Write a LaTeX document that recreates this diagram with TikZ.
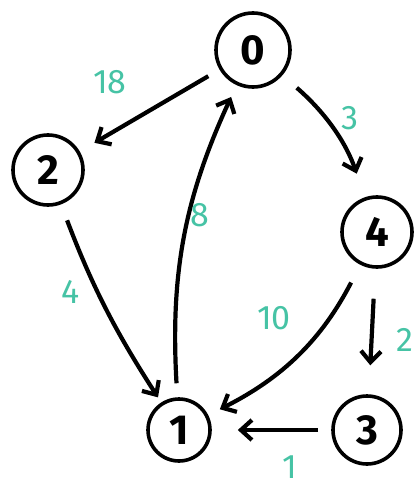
\documentclass[tikz,border=0pt]{standalone}
\usepackage{fontspec}
\setmainfont{Fira Sans}
\usetikzlibrary{arrows.meta}
\definecolor{weight}{RGB}{70,195,165}
\begin{document}
\begin{tikzpicture}[x=1pt,y=-1pt,
  vert/.style={circle, draw, line width=3.6pt, minimum size=#1, inner sep=0pt,
    font=\fontsize{42}{42}\selectfont\bfseries},
  edge/.style={line width=4.2pt,
    -{Straight Barb[length=11pt,width=20pt,line width=4.2pt]}},
  wlabel/.style={text=weight, inner sep=0pt, font=\fontsize{34}{34}\selectfont}]
\useasboundingbox (0,0) rectangle (416,492);

% vertices
\node[vert=74pt] (n0) at (253,50) {0};
\node[vert=70pt] (n2) at (48,170) {2};
\node[vert=70pt] (n4) at (377,232) {4};
\node[vert=62pt] (n1) at (179,430) {1};
\node[vert=68pt] (n3) at (367,430) {3};

% weighted edges
\draw[edge, shorten <=13pt, shorten >=17pt] (n0) -- (n2);
\draw[edge, shorten <=19pt, shorten >=25pt] (n0) to[bend left=15] (n4);
\draw[edge, shorten <=14pt, shorten >=13pt] (n1) to[bend left=14] (n0);
\draw[edge, shorten <=17pt, shorten >=6pt] (n2) to[bend right=6] (n1);
\draw[edge, shorten <=20pt, shorten >=13pt] (n4) to[bend left=18] (n1);
\draw[edge, shorten <=30pt, shorten >=29pt] (n4) -- (n3);
\draw[edge, shorten <=13pt, shorten >=26pt] (n3) -- (n1);

% weights
\node[wlabel] (w02) at (110,82) {18};
\node[wlabel] (w04) at (350,118) {3};
\node[wlabel] (w10) at (200,215) {8};
\node[wlabel] (w21) at (71,292) {4};
\node[wlabel] (w41) at (274,318) {10};
\node[wlabel] (w43) at (405,340) {2};
\node[wlabel] (w31) at (290,467) {1};
\end{tikzpicture}
\end{document}
